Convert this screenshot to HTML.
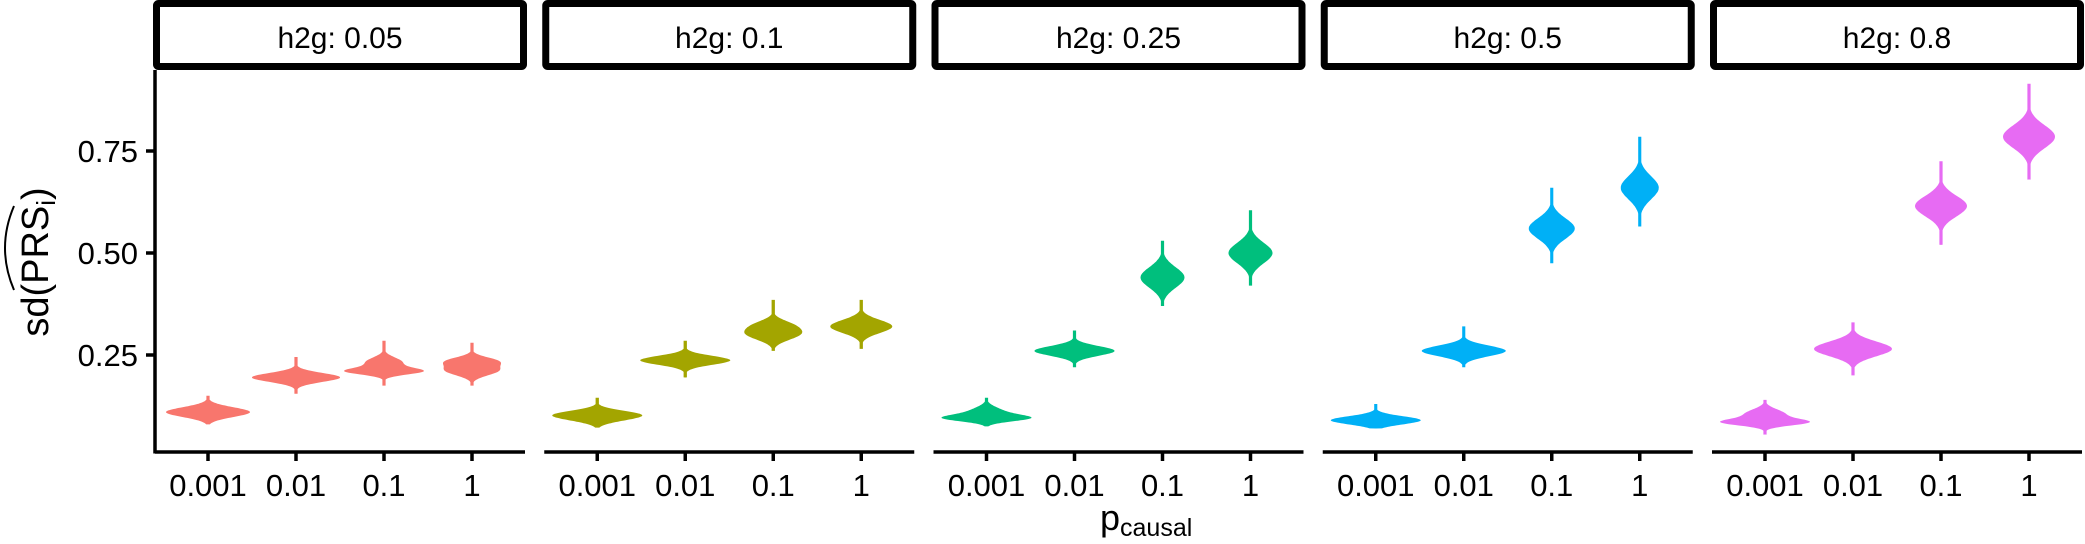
<!DOCTYPE html>
<html><head><meta charset="utf-8"><style>
html,body{margin:0;padding:0;background:#fff;}
svg{display:block;}
text{font-family:"Liberation Sans",Arial,sans-serif;fill:#000;}
</style></head><body>
<svg id="s" width="2085" height="544" viewBox="0 0 2085 544" xmlns="http://www.w3.org/2000/svg">
<g id="strips"></g>
<g id="viol"></g>
<g id="axes"></g>
<line x1="155" y1="70" x2="155" y2="453.5" stroke="#000" stroke-width="3.5"/>
<g stroke="#000" stroke-width="3.5">
<line x1="146" y1="151" x2="155" y2="151"/>
<line x1="146" y1="253" x2="155" y2="253"/>
<line x1="146" y1="355" x2="155" y2="355"/>
</g>
<g font-size="31" text-anchor="end">
<text x="138" y="162">0.75</text>
<text x="138" y="264">0.50</text>
<text x="138" y="366">0.25</text>
</g>
<g transform="translate(48,262) rotate(-90)">
<text x="0" y="0" font-size="38" text-anchor="middle">sd(PRS<tspan font-size="26" dy="7">i</tspan><tspan dy="-7">)</tspan></text>
<path d="M -28 -34 Q 14 -52 56 -34" fill="none" stroke="#000" stroke-width="2"/>
</g>
<text x="1100" y="530" font-size="36">p<tspan font-size="25" dy="6">causal</tspan></text>
</svg>
<script>
var ns="http://www.w3.org/2000/svg";
function el(t,a,p){var e=document.createElementNS(ns,t);for(var k in a)e.setAttribute(k,a[k]);if(p)p.appendChild(e);return e;}
function Y(v){return 355-(v-0.25)*408;}
var pitch=389.25, pw=370, p0=155;
var labels=["h2g: 0.05","h2g: 0.1","h2g: 0.25","h2g: 0.5","h2g: 0.8"];
var cols=["#F8766D","#A3A500","#00BF7D","#00B0F6","#E76BF3"];
var ticks=["0.001","0.01","0.1","1"];
var data=[
 [[0.11,0.08,0.15,42,0.012],[0.195,0.155,0.245,44,0.011],[0.21,0.175,0.285,40,0.008,0.232,0.5,0.012],[0.212,0.175,0.28,29,0.012,0.235,0.9,0.01]],
 [[0.105,0.072,0.145,45,0.01,0.093,0.5,0.01],[0.237,0.195,0.285,45,0.011],[0.302,0.26,0.385,29,0.015,0.325,0.5,0.012],[0.32,0.265,0.385,31,0.016]],
 [[0.095,0.075,0.145,45,0.008,0.11,0.45,0.012],[0.26,0.22,0.31,40,0.012],[0.44,0.37,0.53,22,0.025],[0.5,0.42,0.605,22,0.025]],
 [[0.09,0.07,0.13,45,0.01],[0.26,0.22,0.32,42,0.013],[0.56,0.475,0.66,23,0.025],[0.66,0.565,0.785,19,0.028]],
 [[0.085,0.055,0.14,45,0.008,0.105,0.5,0.012],[0.265,0.2,0.33,39,0.018],[0.615,0.52,0.725,26,0.025],[0.785,0.68,0.915,26,0.028]]
];
var sg=document.getElementById("strips"),vg=document.getElementById("viol"),ag=document.getElementById("axes");
for(var p=0;p<5;p++){
 var L=p0+p*pitch;
 el("rect",{x:L+1.5,y:3.5,width:pw-3,height:63,fill:"#fff",stroke:"#000","stroke-width":7,rx:2},sg);
 var t=el("text",{x:L+pw/2,y:48,"font-size":30,"text-anchor":"middle"},sg);t.textContent=labels[p];
 el("line",{x1:L,y1:452,x2:L+pw,y2:452,stroke:"#000","stroke-width":3.5},ag);
 for(var i=0;i<4;i++){
  var x=L+53+88*i;
  el("line",{x1:x,y1:452,x2:x,y2:461,stroke:"#000","stroke-width":3.5},ag);
  var tt=el("text",{x:x,y:496,"font-size":31,"text-anchor":"middle"},ag);tt.textContent=ticks[i];
  var d=data[p][i],c=d[0],lo=d[1],hi=d[2],W=d[3],s=d[4];
  var N=80,mx=0,vals=[];
  for(var k=0;k<=N;k++){var v=lo+(hi-lo)*k/N;var f=Math.exp(-0.5*Math.pow((v-c)/s,2));
   if(d.length>5)f+=d[6]*Math.exp(-0.5*Math.pow((v-d[5])/d[7],2));
   vals.push([v,f]);if(f>mx)mx=f;}
  var pts=[];
  for(var k=0;k<=N;k++){var v=vals[k][0],w=Math.max(1.6,W*vals[k][1]/mx);pts.push([w,Y(v)]);}
  var path="M"+x+" "+pts[0][1];
  for(var k=0;k<=N;k++)path+=" L"+(x+pts[k][0]).toFixed(1)+" "+pts[k][1].toFixed(1);
  for(var k=N;k>=0;k--)path+=" L"+(x-pts[k][0]).toFixed(1)+" "+pts[k][1].toFixed(1);
  path+="Z";
  el("path",{d:path,fill:cols[p]},vg);
 }
}
</script>
</body></html>
